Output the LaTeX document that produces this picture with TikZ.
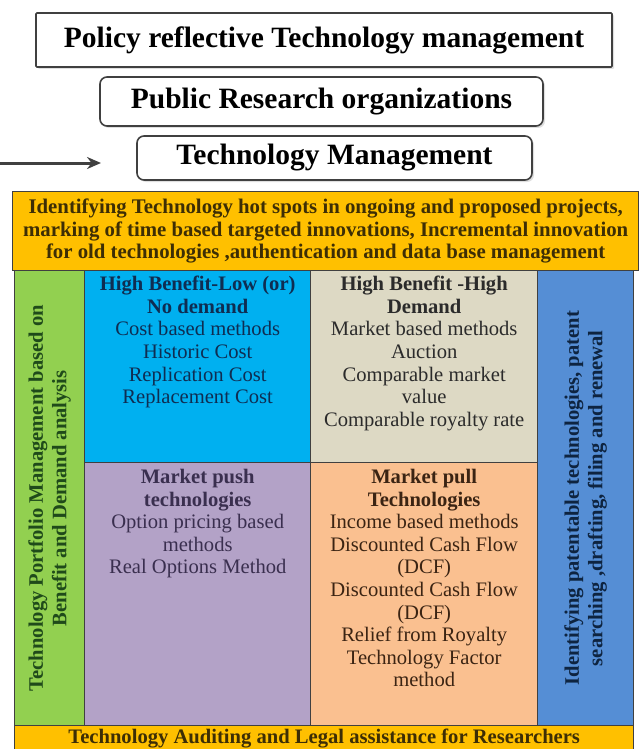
\documentclass[tikz,border=0pt]{standalone}
\usepackage{fontspec}
\setmainfont{Liberation Serif}
\usetikzlibrary{arrows.meta, positioning, shadows}
\definecolor{bandgold}{HTML}{FFC000}
\definecolor{leafgreen}{HTML}{92D050}
\definecolor{skycyan}{HTML}{00B0F0}
\definecolor{stonebeige}{HTML}{DDD9C4}
\definecolor{lavender}{HTML}{B3A2C7}
\definecolor{apricot}{HTML}{FAC090}
\definecolor{cornblue}{HTML}{558ED5}
\definecolor{bandink}{HTML}{3D2E05}
\definecolor{cyanink}{HTML}{0F2D52}
\definecolor{beigeink}{HTML}{2B2B2B}
\definecolor{purpleink}{HTML}{3A2F4F}
\definecolor{peachink}{HTML}{3B2413}
\definecolor{greenink}{HTML}{1F4A1A}
\definecolor{blueink}{HTML}{0E2440}

\begin{document}
\begin{tikzpicture}[x=1pt, y=-1pt,
    topbox/.style={draw=black!75, line width=1.6pt, fill=white, inner sep=0pt,
        font=\fontsize{29.5}{31}\selectfont\bfseries,
        drop shadow={opacity=0.25, shadow xshift=2pt, shadow yshift=-2pt}},
    cellbox/.style={draw=black!75, line width=1.4pt, anchor=north west, inner sep=0pt},
    celltext/.style={anchor=north, align=center, inner sep=0pt, font=\fontsize{20.6}{22.6}\selectfont},
    sidetext/.style={rotate=90, align=center, inner sep=0pt, font=\fontsize{20.6}{23.5}\selectfont\bfseries}]
    \useasboundingbox (0,0) rectangle (638,749);

    % Heading boxes
    \node[topbox, rounded corners=1pt, minimum width=576pt, minimum height=54pt]
        (policy) at (324,40) {Policy reflective Technology management};
    \node[topbox, rounded corners=7pt, minimum width=443pt, minimum height=49pt]
        (pro) at (321.5,101.5) {Public Research organizations};
    \node[topbox, rounded corners=7pt, minimum width=395pt, minimum height=44pt]
        (techmgmt) at (334.5,158) {Technology Management};

    % Feed-in arrow
    \coordinate (feedstart) at (0,163);
    \coordinate (feedend) at (101,163);
    \draw[-{Stealth[length=14pt, width=12pt]}, line width=3pt, black!75] (feedstart) -- (feedend);

    % Yellow bands
    \node[cellbox, fill=bandgold, minimum width=626pt, minimum height=79pt, align=center, text=bandink,
        font=\fontsize{20.8}{22.5}\selectfont\bfseries] (hotspot) at (12,191)
        {Identifying Technology hot spots in ongoing and proposed projects,\\
         marking of time based targeted innovations, Incremental innovation\\
         for old technologies ,authentication and data base management};
    \node[cellbox, fill=bandgold, minimum width=619pt, minimum height=26pt] (audit) at (14,725) {};
    \node[inner sep=0pt, text=bandink, font=\fontsize{20.6}{22}\selectfont\bfseries]
        at ([yshift=0pt]audit.center) {Technology Auditing and Legal assistance for Researchers};

    % Side columns
    \node[cellbox, fill=leafgreen, minimum width=70pt, minimum height=455pt] (portfolio) at (14,270) {};
    \node[sidetext, text=greenink] at (portfolio.center)
        {Technology Portfolio Management based on\\ Benefit and Demand analysis};
    \node[cellbox, fill=cornblue, minimum width=96pt, minimum height=455pt] (patent) at (537,270) {};
    \node[sidetext, text=blueink] at (patent.center)
        {Identifying patentable technologies, patent\\ searching ,drafting, filing and renewal};

    % Benefit and demand quadrants
    \node[cellbox, fill=skycyan, minimum width=226pt, minimum height=192pt] (lowdemand) at (84,270) {};
    \node[cellbox, fill=stonebeige, minimum width=227pt, minimum height=192pt] (highdemand) at (310,270) {};
    \node[cellbox, fill=lavender, minimum width=226pt, minimum height=263pt] (push) at (84,462) {};
    \node[cellbox, fill=apricot, minimum width=227pt, minimum height=263pt] (pull) at (310,462) {};

    \node[celltext, text=cyanink, below=6pt of lowdemand.north]
        {\textbf{High Benefit-Low (or)}\\ \textbf{No demand}\\ Cost based methods\\ Historic Cost\\
         Replication Cost\\ Replacement Cost};
    \node[celltext, text=beigeink, below=6pt of highdemand.north]
        {\textbf{High Benefit -High}\\ \textbf{Demand}\\ Market based methods\\ Auction\\
         Comparable market\\ value\\ Comparable royalty rate};
    \node[celltext, text=purpleink, below=7pt of push.north]
        {\textbf{Market push}\\ \textbf{technologies}\\ Option pricing based\\ methods\\ Real Options Method};
    \node[celltext, text=peachink, below=7pt of pull.north]
        {\textbf{Market pull}\\ \textbf{Technologies}\\ Income based methods\\ Discounted Cash Flow\\ (DCF)\\
         Discounted Cash Flow\\ (DCF)\\ Relief from Royalty\\ Technology Factor\\ method};
\end{tikzpicture}
\end{document}
